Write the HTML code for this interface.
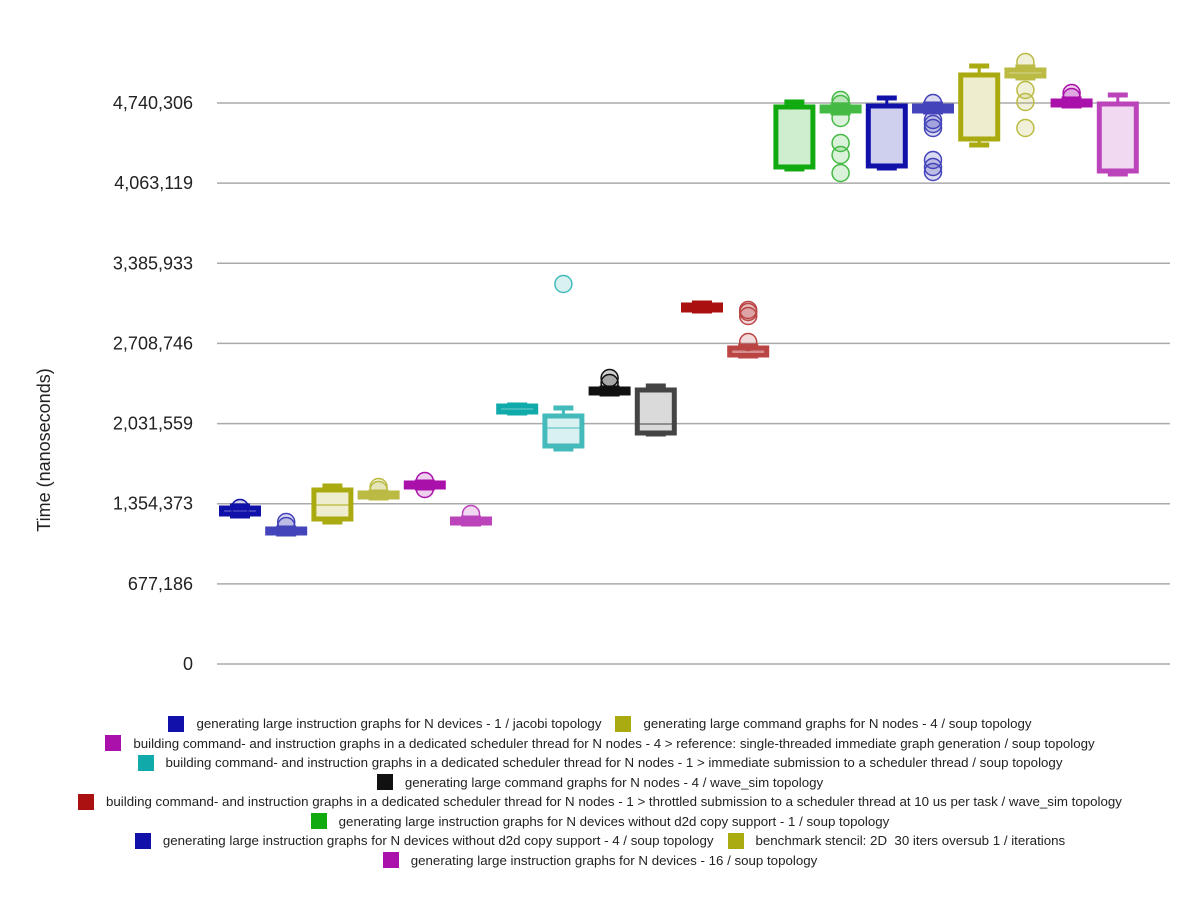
<!DOCTYPE html>
<html><head><meta charset="utf-8"><style>
body{margin:0;width:1200px;height:900px;background:#fff;font-family:"Liberation Sans",sans-serif;overflow:hidden}
#legend{position:absolute;left:0;top:714px;width:1200px}
.row{display:flex;justify-content:center;height:19.5px;align-items:center;font-size:13.3px;color:#222}
.it{display:flex;align-items:center;margin:0 7px}
.sw{width:16px;height:16px;margin-right:12px}
</style></head><body>
<svg id="chart" width="1200" height="710" style="position:absolute;left:0;top:0"></svg>
<div id="legend">
<div class="row"><div class="it"><div class="sw" style="background:#1111aa"></div>generating large instruction graphs for N devices - 1 / jacobi topology</div><div class="it"><div class="sw" style="background:#aaaa11"></div>generating large command graphs for N nodes - 4 / soup topology</div></div>
<div class="row"><div class="it"><div class="sw" style="background:#aa11aa"></div>building command- and instruction graphs in a dedicated scheduler thread for N nodes - 4 &gt; reference: single-threaded immediate graph generation / soup topology</div></div>
<div class="row"><div class="it"><div class="sw" style="background:#11aaaa"></div>building command- and instruction graphs in a dedicated scheduler thread for N nodes - 1 &gt; immediate submission to a scheduler thread / soup topology</div></div>
<div class="row"><div class="it"><div class="sw" style="background:#111111"></div>generating large command graphs for N nodes - 4 / wave_sim topology</div></div>
<div class="row"><div class="it"><div class="sw" style="background:#aa1111"></div>building command- and instruction graphs in a dedicated scheduler thread for N nodes - 1 &gt; throttled submission to a scheduler thread at 10 us per task / wave_sim topology</div></div>
<div class="row"><div class="it"><div class="sw" style="background:#11aa11"></div>generating large instruction graphs for N devices without d2d copy support - 1 / soup topology</div></div>
<div class="row"><div class="it"><div class="sw" style="background:#1111aa"></div>generating large instruction graphs for N devices without d2d copy support - 4 / soup topology</div><div class="it"><div class="sw" style="background:#aaaa11"></div>benchmark stencil: 2D&nbsp; 30 iters oversub 1 / iterations</div></div>
<div class="row"><div class="it"><div class="sw" style="background:#aa11aa"></div>generating large instruction graphs for N devices - 16 / soup topology</div></div>
</div>
<script>
const tickValues=[0,677186,1354373,2031559,2708746,3385933,4063119,4740306];
const tickLabels=["0","677,186","1,354,373","2,031,559","2,708,746","3,385,933","4,063,119","4,740,306"];
const colors=["#1111aa","#4444bb","#aaaa11","#bbbb44","#aa11aa","#bb44bb","#11aaaa","#44bbbb","#111111","#444444","#aa1111","#bb4444","#11aa11","#44bb44","#1111aa","#4444bb","#aaaa11","#bbbb44","#aa11aa","#bb44bb"];
const minV=[1250600,1098500,1199900,1402700,1487200,1183000,2120950,1816750,2281500,1943500,2982850,2602600,4182750,4655950,4191200,4664400,4385550,4951700,4715100,4140500];
const q1V=[1267500,1106950,1225250,1411150,1495650,1191450,2129400,1842100,2289950,1951950,2991300,2611050,4199650,4672850,4208100,4672850,4436250,4968600,4723550,4165850];
const medV=[1292850,1123850,1343550,1428050,1512550,1208350,2154750,1994200,2306850,2028000,3016650,2644850,4208100,4689750,4216550,4698200,4444700,4993950,4740450,4174300];
const q3V=[1318200,1140750,1470300,1444950,1529450,1225250,2180100,2095600,2323750,2315300,3033550,2670200,4706650,4706650,4715100,4715100,4977050,5019300,4757350,4732000];
const maxV=[1335100,1149200,1504100,1453400,1537900,1233700,2188550,2163200,2332200,2349100,3050450,2687100,4748900,4723550,4782700,4732000,5053100,5044650,4774250,4808050];
const outliers=[[1318200],[1199900,1166100],[],[1495650,1470300],[1546350,1478750],[1267500],[],[3211000],[2416700,2374450],[],[],[2720900,2974400,2940600,2991300],[],[4765800,4613700,4402450,4301050,4148950,4732000],[],[4596800,4563000,4529200,4258800,4199650,4157400,4740450],[],[5086900,4850300,4748900,4529200],[4824950,4791150],[]];
const svg=document.getElementById('chart');const NS='http://www.w3.org/2000/svg';
const X0=217,X1=1170,Y0=664,Y1=103;
const y=v=>Y0-(v/4740306)*(Y0-Y1);
const xc=i=>240+i*46.2;
function mk(t,a){const e=document.createElementNS(NS,t);for(const k in a)e.setAttribute(k,a[k]);svg.appendChild(e);return e;}
tickValues.forEach((v,i)=>{
 const l=mk('line',{x1:X0,x2:X1,y1:y(v),y2:y(v),stroke:'#aaa','stroke-width':1.5});
 
 
 const t=mk('text',{x:193,y:y(v)+6,'text-anchor':'end','font-size':18,fill:'#222'});t.textContent=tickLabels[i];
 
 
});
const yt=mk('text',{x:0,y:0,transform:'translate(50,450) rotate(-90)','text-anchor':'middle','font-size':18,fill:'#222'});yt.textContent='Time (nanoseconds)';


colors.forEach((c,i)=>{
 const x=xc(i);const g=document.createElementNS(NS,'g');svg.appendChild(g);
 
 
 const add=(t,a)=>{const e=document.createElementNS(NS,t);for(const k in a)e.setAttribute(k,a[k]);g.appendChild(e);return e;};
 add('line',{x1:x,x2:x,y1:y(maxV[i]),y2:y(minV[i]),stroke:c,'stroke-width':3});
 add('rect',{x:x-10,y:y(maxV[i])-2.5,width:20,height:5,fill:c});
 add('rect',{x:x-10,y:y(minV[i])-2.5,width:20,height:5,fill:c});
 const top=y(q3V[i]),bot=y(q1V[i]);
 add('rect',{x:x-18.5,y:top,width:37,height:Math.max(bot-top,1),fill:'#fff',stroke:c,'stroke-width':5});
 add('rect',{x:x-18.5,y:top,width:37,height:Math.max(bot-top,1),fill:c,'fill-opacity':0.2});
 add('line',{x1:x-18,x2:x+18,y1:y(medV[i]),y2:y(medV[i]),stroke:c,'stroke-width':2,'stroke-opacity':0.5});
 outliers[i].forEach(o=>{add('circle',{cx:x,cy:y(o),r:8.5,fill:c,'fill-opacity':0.2,stroke:c,'stroke-width':1.5});});
});
</script>
</body></html>
